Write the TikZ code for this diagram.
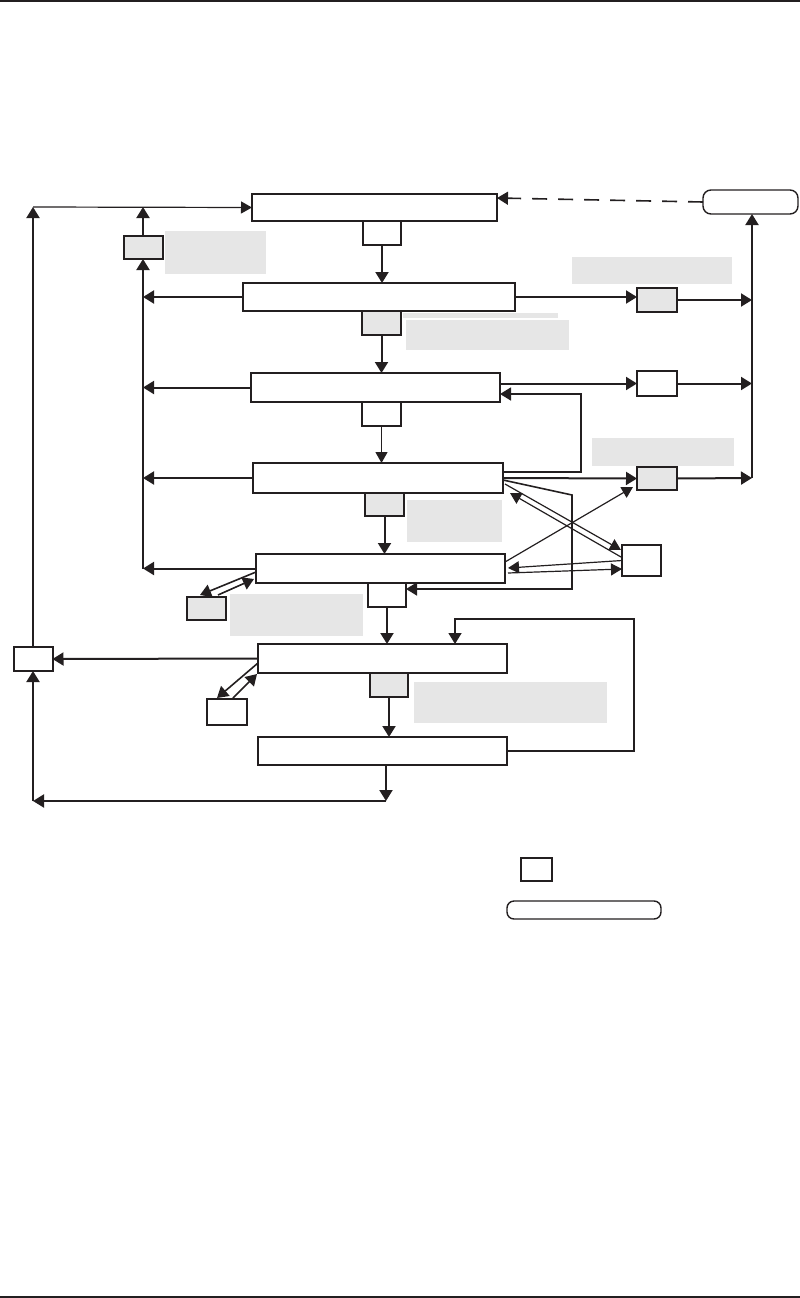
\documentclass[tikz,border=0pt]{standalone}
\usetikzlibrary{arrows.meta,calc}
\definecolor{ink}{HTML}{231F20}
\definecolor{lgray}{HTML}{E6E6E6}
\begin{document}
\begin{tikzpicture}[x=1pt,y=-1pt,
  box/.style={draw=ink,line width=2pt,inner sep=0pt,outer sep=0pt,fill=white},
  gbox/.style={box,fill=lgray},
  rbox/.style={draw=ink,line width=1.4pt,rounded corners=8pt,inner sep=0pt,outer sep=0pt},
  lab/.style={fill=lgray,draw=none},
  arr/.style={draw=ink,line width=2pt,-{Triangle[length=11pt,width=13pt]}},
  marr/.style={draw=ink,line width=1.6pt,-{Triangle[length=11pt,width=13pt]}},
  tarr/.style={draw=ink,line width=1.2pt,-{Triangle[length=11pt,width=12pt]}}]
\useasboundingbox (0,0) rectangle (800,1298);
\fill[ink] (0,0) rectangle (800,2);
\fill[ink] (0,1296) rectangle (800,1298);
% gray label areas
\fill[lab] (165,231) rectangle (266,274);
\fill[lab] (572,257) rectangle (732,284);
\fill[lab] (403,313) rectangle (558,318);
\fill[lab] (406,320) rectangle (569,350);
\fill[lab] (592,438) rectangle (734,466);
\fill[lab] (407,500) rectangle (502,542);
\fill[lab] (230,594) rectangle (363,636);
\fill[lab] (414,682) rectangle (607,723);
% main boxes
\node[box,minimum width=245pt,minimum height=27pt] (A) at (374.5,207.5) {};
\node[box,minimum width=38pt,minimum height=24pt] (a1) at (382,233) {};
\node[box,minimum width=272pt,minimum height=28pt] (B) at (379,297) {};
\node[gbox,minimum width=39pt,minimum height=24pt] (b1) at (381.5,323) {};
\node[box,minimum width=249pt,minimum height=29pt] (C) at (375.5,387.5) {};
\node[box,minimum width=39pt,minimum height=24pt] (c1) at (381.5,414) {};
\node[box,minimum width=250pt,minimum height=30pt] (D) at (378,478) {};
\node[gbox,minimum width=39pt,minimum height=23pt] (d1) at (384.5,504.5) {};
\node[box,minimum width=249pt,minimum height=29pt] (E) at (380.5,568.5) {};
\node[box,minimum width=38pt,minimum height=24pt] (e1) at (387,595) {};
\node[box,minimum width=249pt,minimum height=29pt] (F) at (382.5,658.5) {};
\node[gbox,minimum width=38pt,minimum height=24pt] (f1) at (389,685) {};
\node[box,minimum width=249pt,minimum height=28pt] (G) at (382.5,751) {};
% side boxes
\node[box,minimum width=39pt,minimum height=24pt] (H) at (33,659) {};
\node[gbox,minimum width=39pt,minimum height=23pt] (I) at (143,247.5) {};
\node[gbox,minimum width=40pt,minimum height=24pt] (J) at (657,300) {};
\node[box,minimum width=40pt,minimum height=25pt] (K) at (657,383.5) {};
\node[gbox,minimum width=40pt,minimum height=23pt] (L) at (657,478.5) {};
\node[box,minimum width=39pt,minimum height=31pt] (M) at (641.5,560.5) {};
\node[gbox,minimum width=39pt,minimum height=23pt] (N) at (206.5,608.5) {};
\node[box,minimum width=40pt,minimum height=26pt] (O) at (227,712) {};
\node[rbox,minimum width=95pt,minimum height=24pt] (R) at (750.5,202) {};
% legend
\node[box,minimum width=31pt,minimum height=23pt] (LG1) at (536.5,869.5) {};
\node[rbox,minimum width=154pt,minimum height=18pt,rounded corners=7pt] (LG2) at (584,910) {};
% coordinates
\coordinate (ht) at (33,207);
\coordinate (gb) at (386,801);
\coordinate (lb) at (33,801);
\coordinate (rb) at (752,478);
\coordinate (lp1) at (581,472);
\coordinate (lp2) at (581,394);
\coordinate (dp1) at (572,495);
\coordinate (dp2) at (572,589);
\coordinate (gl1) at (634,619);
% vertical chain
\draw[arr] (a1.south) -- (a1.south |- B.north);
\draw[arr] (b1.south) -- (b1.south |- C.north);
\draw[tarr] (c1.south) -- (c1.south |- D.north);
\draw[arr] (d1.south) -- (d1.south |- E.north);
\draw[arr] (e1.south) -- (e1.south |- F.north);
\draw[arr] (f1.south) -- (f1.south |- G.north);
\draw[arr] (gb |- G.south) -- (gb);
\draw[arr] (gb) -- (lb);
\draw[arr] (lb) -- (H.south);
% left side
\draw[arr] (F.west) -- (H.east);
\draw[arr] (H.north) -- (ht);
\draw[tarr] (ht) -- (A.west);
\draw[arr] (I.north) -- (I.north |- ht);
\draw[arr] (B.west) -- (B.west -| I.south);
\draw[arr] (C.west) -- (C.west -| I.south);
\draw[arr] (D.west) -- (D.west -| I.south);
\draw[arr] (E.west) -- (E.west -| I.south);
\draw[arr] (E.west -| I.south) -- (I.south);
% dashed
\draw[draw=ink,line width=1.6pt,dash pattern=on 15pt off 11pt,-{Triangle[length=11pt,width=13pt]}] (R.west) -- ($(A.east)+(0,-9.5)$);
% right side
\draw[arr] (B.east) -- (B.east -| J.west);
\draw[arr] (J.east) -- (J.east -| rb);
\draw[arr] (K.west -| C.east) -- (K.west);
\draw[arr] (K.east) -- (K.east -| rb);
\draw[arr] (D.east) -- (L.west);
\draw[arr] (L.east) -- (rb);
\draw[arr] (rb) -- (rb |- R.south);
\draw[marr] ($(D.east)+(0,-6)$) -- (lp1) -- (lp2) -- ($(C.east)+(0,6.5)$);
\draw[marr] ($(D.east)+(0,2)$) -- (dp1) -- (dp2) -- ($(e1.east)+(0,-6)$);
% crossing double arrows D<->M
\draw[tarr] ($(D.south east)+(2,-9)$) -- ($(M.north west)+(-1,5)$);
\draw[tarr] ($(M.north west)+(-1,12)$) -- ($(D.south east)+(7,0)$);
% E -> L
\draw[tarr] ($(E.east)+(0,-6.5)$) -- ($(L.south west)+(-4,-3)$);
% E <-> M
\draw[tarr] (M.west) -- ($(E.east)+(3,-0.5)$);
\draw[tarr] ($(E.east)+(3,4.5)$) -- ($(M.west)+(0,8.5)$);
% E <-> N
\draw[marr] ($(E.west)+(0,3.5)$) -- ($(N.north west)+(13,-2)$);
\draw[marr] ($(N.north west)+(31,-2)$) -- ($(E.south west)+(-2,-4)$);
% F <-> O
\draw[marr] ($(F.west)+(0,4.5)$) -- ($(O.north west)+(10,-1)$);
\draw[marr] ($(O.north west)+(26,-1)$) -- ($(F.south west)+(-1,1)$);
% G loop to F
\draw[marr] (G.east) -| (gl1) -| ($(F.north)+(72.5,0)$);
\end{tikzpicture}
\end{document}
